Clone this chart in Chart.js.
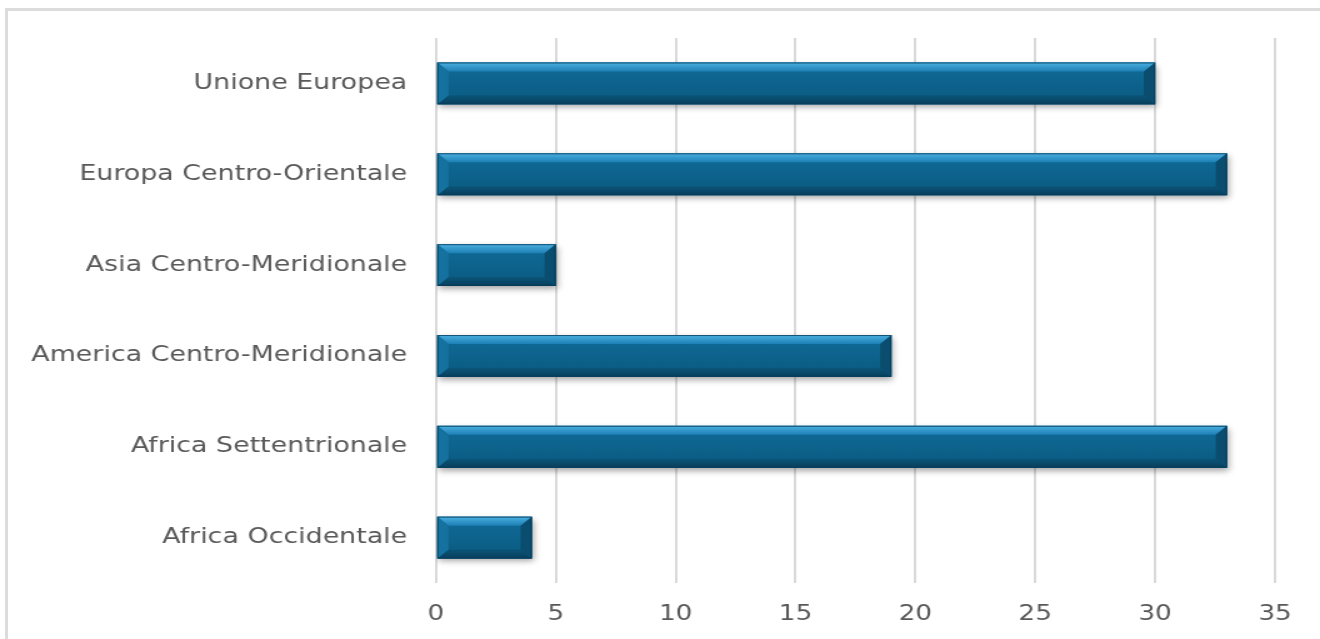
<!DOCTYPE html>
<html>
<head>
<meta charset="utf-8">
<script src="https://cdn.jsdelivr.net/npm/chart.js@4/dist/chart.umd.min.js"></script>
<style>
  html,body{margin:0;padding:0;background:#fff;overflow:hidden;width:1320px;height:639px;}
  #frame{position:absolute;left:5px;top:8px;width:1315px;height:631px;border-left:3px solid #dcdcdc;border-top:3px solid #dcdcdc;box-sizing:border-box;}
  #wrap{position:absolute;left:0;top:0;width:1056px;height:639px;transform:scaleX(1.25);transform-origin:0 0;}
</style>
</head>
<body>
<div id="frame"></div>
<div id="wrap"><canvas id="c" width="1056" height="639"></canvas></div>
<script>
const categories = ["Unione Europea","Europa Centro-Orientale","Asia Centro-Meridionale","America Centro-Meridionale","Africa Settentrionale","Africa Occidentale"];
const values = [30, 33, 5, 19, 33, 4];
const xTicks = [0,5,10,15,20,25,30,35];

const bevelPlugin = {
  id: 'bevel',
  beforeDatasetDraw(chart) {
    const ctx = chart.ctx;
    ctx.save();
    ctx.shadowColor = 'rgba(0,0,0,0.35)';
    ctx.shadowBlur = 6;
    ctx.shadowOffsetX = 1;
    ctx.shadowOffsetY = 3;
  },
  afterDatasetDraw(chart) {
    chart.ctx.restore();
  },
  afterDatasetsDraw(chart) {
    const ctx = chart.ctx;
    const meta = chart.getDatasetMeta(0);
    meta.data.forEach(el => {
      const p = el.getProps(['x','y','base','height'], true);
      const L = Math.min(p.base, p.x), R = Math.max(p.base, p.x);
      const T = p.y - p.height/2, B = p.y + p.height/2;
      const bv = 9, bh = Math.min(9, (R-L)/3);
      let g = ctx.createLinearGradient(0, T, 0, B);
      g.addColorStop(0, '#106c99'); g.addColorStop(1, '#0a5a80');
      ctx.fillStyle = g;
      ctx.fillRect(L, T, R-L, B-T);
      g = ctx.createLinearGradient(0, T, 0, T+bv);
      g.addColorStop(0, '#4cb0e2'); g.addColorStop(1, '#1d7fb4');
      ctx.fillStyle = g;
      ctx.beginPath(); ctx.moveTo(L,T); ctx.lineTo(R,T); ctx.lineTo(R-bh,T+bv); ctx.lineTo(L+bh,T+bv); ctx.closePath(); ctx.fill();
      g = ctx.createLinearGradient(0, B-bv, 0, B);
      g.addColorStop(0, '#0b5579'); g.addColorStop(1, '#083f5c');
      ctx.fillStyle = g;
      ctx.beginPath(); ctx.moveTo(L,B); ctx.lineTo(R,B); ctx.lineTo(R-bh,B-bv); ctx.lineTo(L+bh,B-bv); ctx.closePath(); ctx.fill();
      ctx.fillStyle = '#15729f';
      ctx.beginPath(); ctx.moveTo(L,T); ctx.lineTo(L+bh,T+bv); ctx.lineTo(L+bh,B-bv); ctx.lineTo(L,B); ctx.closePath(); ctx.fill();
      ctx.fillStyle = '#0a4d6f';
      ctx.beginPath(); ctx.moveTo(R,T); ctx.lineTo(R-bh,T+bv); ctx.lineTo(R-bh,B-bv); ctx.lineTo(R,B); ctx.closePath(); ctx.fill();
      ctx.strokeStyle = 'rgba(8,60,90,0.8)';
      ctx.lineWidth = 1;
      ctx.strokeRect(L+0.5, T+0.5, R-L-1, B-T-1);
    });
  }
};

new Chart(document.getElementById('c'), {
  type: 'bar',
  data: {
    labels: categories,
    datasets: [{
      data: values,
      backgroundColor: '#0d6690',
      borderWidth: 0,
      barPercentage: 0.46,
      categoryPercentage: 1
    }]
  },
  options: {
    indexAxis: 'y',
    responsive: false,
    animation: false,
    devicePixelRatio: 1,
    layout: { padding: { left: 0, right: 36, top: 38, bottom: 0 } },
    plugins: { legend: { display: false }, tooltip: { enabled: false } },
    scales: {
      x: {
        min: 0, max: 35,
        afterBuildTicks(scale) { scale.ticks = xTicks.map(v => ({ value: v })); },
        afterFit(scale) { scale.height = 56; },
        grid: { color: '#d9d9d9', lineWidth: 2, drawTicks: false },
        border: { display: false },
        ticks: { color: '#595959', padding: 19, font: { family: 'DejaVu Sans', size: 21 } }
      },
      y: {
        afterFit(scale) { scale.width = 348.8; },
        grid: { display: false },
        border: { display: false },
        ticks: { color: '#595959', padding: 15, font: { family: 'DejaVu Sans', size: 21.5 } }
      }
    }
  },
  plugins: [bevelPlugin]
});
</script>
</body>
</html>
